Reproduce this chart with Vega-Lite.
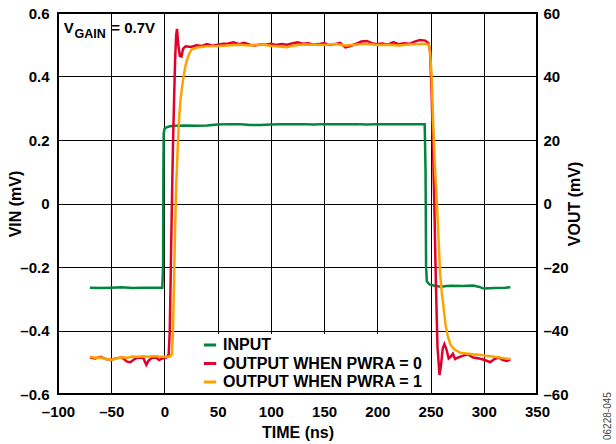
{
  "$schema": "https://vega.github.io/schema/vega-lite/v6.json",
  "width": 479,
  "height": 381,
  "autosize": {"type": "none"},
  "padding": {"left": 58, "top": 13, "right": 79, "bottom": 50},
  "background": "white",
  "config": {
    "font": "Liberation Sans",
    "view": {"stroke": "black", "strokeWidth": 2},
    "axis": {
      "labelFont": "Liberation Sans", "labelFontWeight": "bold", "labelFontSize": 15, "labelColor": "black",
      "titleFont": "Liberation Sans", "titleFontWeight": "bold", "titleFontSize": 16, "titleColor": "black",
      "ticks": false, "domain": false, "gridColor": "black", "gridOpacity": 1, "gridWidth": 1,
      "labelFlush": false, "labelOverlap": false
    },
    "legend": {
      "labelFont": "Liberation Sans", "labelFontWeight": "bold", "labelFontSize": 16, "labelColor": "black", "labelLimit": 400
    }
  },
  "title": {"text": "06228-045", "orient": "right", "anchor": "end", "frame": "bounds", "angle": -90, "align": "left", "baseline": "middle", "fontSize": 10, "fontWeight": "normal", "color": "#444444", "offset": 16},
  "datasets": {
    "input": [
      {"t": -70, "v": -0.265}, {"t": -60, "v": -0.266}, {"t": -50, "v": -0.265}, {"t": -40, "v": -0.264},
      {"t": -30, "v": -0.266}, {"t": -20, "v": -0.265}, {"t": -10, "v": -0.265}, {"t": -2, "v": -0.265},
      {"t": -1.3, "v": -0.2}, {"t": -1, "v": 0.1}, {"t": -0.7, "v": 0.22}, {"t": 0, "v": 0.235},
      {"t": 2, "v": 0.24}, {"t": 5, "v": 0.243}, {"t": 10, "v": 0.245}, {"t": 20, "v": 0.246},
      {"t": 30, "v": 0.245}, {"t": 40, "v": 0.246}, {"t": 50, "v": 0.249}, {"t": 60, "v": 0.25},
      {"t": 70, "v": 0.25}, {"t": 75, "v": 0.249}, {"t": 80, "v": 0.247}, {"t": 90, "v": 0.247},
      {"t": 100, "v": 0.249}, {"t": 110, "v": 0.25}, {"t": 120, "v": 0.25}, {"t": 130, "v": 0.25},
      {"t": 140, "v": 0.249}, {"t": 150, "v": 0.25}, {"t": 160, "v": 0.25}, {"t": 170, "v": 0.25},
      {"t": 180, "v": 0.25}, {"t": 190, "v": 0.249}, {"t": 200, "v": 0.25}, {"t": 210, "v": 0.25},
      {"t": 220, "v": 0.25}, {"t": 230, "v": 0.25}, {"t": 240, "v": 0.25}, {"t": 244.5, "v": 0.25},
      {"t": 245.3, "v": 0.1}, {"t": 245.8, "v": -0.2}, {"t": 246.5, "v": -0.245}, {"t": 249, "v": -0.255},
      {"t": 255, "v": -0.26}, {"t": 260, "v": -0.262}, {"t": 265, "v": -0.26}, {"t": 270, "v": -0.259},
      {"t": 280, "v": -0.26}, {"t": 290, "v": -0.258}, {"t": 295, "v": -0.262}, {"t": 300, "v": -0.268},
      {"t": 310, "v": -0.266}, {"t": 320, "v": -0.265}, {"t": 325, "v": -0.264}
    ],
    "red": [
      {"t": -70, "v": -48.5}, {"t": -65, "v": -48.8}, {"t": -60, "v": -48.3}, {"t": -55, "v": -49},
      {"t": -50, "v": -49.2}, {"t": -45, "v": -48.7}, {"t": -40, "v": -48.5}, {"t": -35, "v": -49.8},
      {"t": -32, "v": -50}, {"t": -28, "v": -49}, {"t": -25, "v": -48.5}, {"t": -20, "v": -48.6},
      {"t": -17, "v": -50.8}, {"t": -15, "v": -49.5}, {"t": -12, "v": -48.7}, {"t": -8, "v": -48.5},
      {"t": -5, "v": -49.3}, {"t": -2, "v": -48.8}, {"t": 2, "v": -48.5}, {"t": 4, "v": -47.5},
      {"t": 5, "v": -40}, {"t": 6, "v": -20}, {"t": 7, "v": 0}, {"t": 8, "v": 18}, {"t": 9, "v": 32},
      {"t": 10, "v": 45}, {"t": 11, "v": 53}, {"t": 11.8, "v": 55}, {"t": 13, "v": 50}, {"t": 14.5, "v": 46.5},
      {"t": 16, "v": 46.3}, {"t": 17.5, "v": 48.8}, {"t": 20, "v": 49.5}, {"t": 25, "v": 49.3},
      {"t": 30, "v": 49.8}, {"t": 35, "v": 49.6}, {"t": 40, "v": 50.2}, {"t": 45, "v": 49.7},
      {"t": 50, "v": 50}, {"t": 55, "v": 50.3}, {"t": 60, "v": 50.4}, {"t": 65, "v": 50.8},
      {"t": 70, "v": 50.2}, {"t": 75, "v": 50.6}, {"t": 80, "v": 50}, {"t": 85, "v": 49.8},
      {"t": 90, "v": 50.1}, {"t": 95, "v": 50}, {"t": 100, "v": 50.3}, {"t": 105, "v": 49.9},
      {"t": 110, "v": 50.2}, {"t": 115, "v": 50}, {"t": 120, "v": 50.4}, {"t": 125, "v": 50.8},
      {"t": 130, "v": 50.3}, {"t": 135, "v": 50.5}, {"t": 140, "v": 50}, {"t": 145, "v": 50.2},
      {"t": 150, "v": 50.5}, {"t": 155, "v": 49.9}, {"t": 160, "v": 50.2}, {"t": 165, "v": 50.6},
      {"t": 170, "v": 49.2}, {"t": 175, "v": 49.6}, {"t": 180, "v": 50.3}, {"t": 185, "v": 51},
      {"t": 190, "v": 51.2}, {"t": 195, "v": 50.5}, {"t": 200, "v": 50.2}, {"t": 205, "v": 50.4},
      {"t": 210, "v": 50}, {"t": 215, "v": 50.8}, {"t": 220, "v": 50.2}, {"t": 225, "v": 50.5},
      {"t": 230, "v": 50.3}, {"t": 235, "v": 51}, {"t": 240, "v": 51.5}, {"t": 245, "v": 51.3},
      {"t": 248, "v": 50.5}, {"t": 249.5, "v": 48}, {"t": 251, "v": 35}, {"t": 252.5, "v": 15},
      {"t": 253.5, "v": 0}, {"t": 255, "v": -25}, {"t": 256.5, "v": -45}, {"t": 258.4, "v": -54},
      {"t": 259.8, "v": -51}, {"t": 261.5, "v": -45.5}, {"t": 263, "v": -44.3}, {"t": 265, "v": -46},
      {"t": 267, "v": -48.8}, {"t": 269, "v": -48.2}, {"t": 271, "v": -47.3}, {"t": 273, "v": -49},
      {"t": 276, "v": -48.5}, {"t": 280, "v": -48}, {"t": 285, "v": -47.5}, {"t": 290, "v": -48.5},
      {"t": 296, "v": -48.8}, {"t": 301, "v": -49.3}, {"t": 306, "v": -50}, {"t": 310, "v": -49},
      {"t": 314, "v": -48.5}, {"t": 318, "v": -49.3}, {"t": 322, "v": -49.6}, {"t": 325, "v": -49}
    ],
    "orange": [
      {"t": -70, "v": -48.3}, {"t": -65, "v": -48.6}, {"t": -60, "v": -48.5}, {"t": -55, "v": -49},
      {"t": -50, "v": -49.2}, {"t": -45, "v": -48.8}, {"t": -40, "v": -48.4}, {"t": -35, "v": -48.6},
      {"t": -30, "v": -48.2}, {"t": -25, "v": -48.3}, {"t": -20, "v": -48.1}, {"t": -15, "v": -48.3},
      {"t": -10, "v": -48}, {"t": -5, "v": -48.2}, {"t": 0, "v": -48.3}, {"t": 5, "v": -48.3},
      {"t": 7, "v": -47.5}, {"t": 8, "v": -40}, {"t": 9, "v": -25}, {"t": 10, "v": -8}, {"t": 11, "v": 5},
      {"t": 12.5, "v": 18}, {"t": 14, "v": 28}, {"t": 15.5, "v": 34}, {"t": 17.5, "v": 39},
      {"t": 19.5, "v": 43}, {"t": 21, "v": 45}, {"t": 23, "v": 47}, {"t": 25.5, "v": 48.5},
      {"t": 30, "v": 49.1}, {"t": 35, "v": 49.3}, {"t": 40, "v": 49.5}, {"t": 50, "v": 49.6},
      {"t": 60, "v": 49.8}, {"t": 70, "v": 50}, {"t": 80, "v": 49.8}, {"t": 90, "v": 50.1},
      {"t": 100, "v": 49.7}, {"t": 110, "v": 49.4}, {"t": 115, "v": 49.2}, {"t": 120, "v": 49.7},
      {"t": 130, "v": 50.1}, {"t": 140, "v": 50}, {"t": 150, "v": 49.9}, {"t": 160, "v": 50.2},
      {"t": 170, "v": 49.8}, {"t": 180, "v": 50}, {"t": 190, "v": 50.3}, {"t": 200, "v": 49.9},
      {"t": 210, "v": 50}, {"t": 220, "v": 49.8}, {"t": 230, "v": 50.1}, {"t": 240, "v": 50.2},
      {"t": 246, "v": 50.3}, {"t": 248.5, "v": 50}, {"t": 249.5, "v": 48}, {"t": 251, "v": 40},
      {"t": 252.5, "v": 25}, {"t": 254, "v": 12}, {"t": 256, "v": 0}, {"t": 258, "v": -15},
      {"t": 259, "v": -22}, {"t": 260.5, "v": -28}, {"t": 262, "v": -32}, {"t": 264, "v": -38},
      {"t": 266, "v": -41.5}, {"t": 268.5, "v": -44.3}, {"t": 271, "v": -45.5}, {"t": 274, "v": -46.3},
      {"t": 278, "v": -47}, {"t": 285, "v": -47.3}, {"t": 290, "v": -47.5}, {"t": 295, "v": -47.6},
      {"t": 303, "v": -48}, {"t": 310, "v": -48.3}, {"t": 318, "v": -48.7}, {"t": 325, "v": -49}
    ]
  },
  "layer": [
    {
      "encoding": {
        "y": {
          "type": "quantitative",
          "scale": {"domain": [-0.6, 0.6], "nice": false, "zero": false},
          "axis": {
            "orient": "left", "title": "VIN (mV)", "values": [-0.6, -0.4, -0.2, 0, 0.2, 0.4, 0.6],
            "labelExpr": "datum.value == 0 ? '0' : (datum.value < 0 ? '–' : '') + format(abs(datum.value), '.1f')",
            "labelPadding": 9, "titlePadding": -4
          }
        }
      },
      "layer": [
        {
          "data": {"name": "input"},
          "transform": [{"calculate": "'INPUT'", "as": "series"}],
          "mark": {"type": "line", "strokeWidth": 2.5, "interpolate": "linear"},
          "encoding": {
            "x": {
              "field": "t", "type": "quantitative",
              "scale": {"domain": [-100, 350], "nice": false, "zero": false},
              "axis": {
                "title": "TIME (ns)", "values": [-100, -50, 0, 50, 100, 150, 200, 250, 300, 350],
                "labelExpr": "(datum.value < 0 ? '–' : '') + abs(datum.value)",
                "labelPadding": 10, "titlePadding": 5
              }
            },
            "y": {"field": "v"},
            "color": {
              "field": "series", "type": "nominal",
              "scale": {"domain": ["INPUT", "OUTPUT WHEN PWRA = 0", "OUTPUT WHEN PWRA = 1"], "range": ["#00853F", "#E1002A", "#FFA200"]},
              "legend": {
                "title": null, "orient": "none", "legendX": 141, "legendY": 321,
                "fillColor": "white", "padding": 3, "symbolType": "stroke", "symbolSize": 150,
                "symbolStrokeWidth": 3, "labelOffset": 5, "rowPadding": 2.5, "labelLimit": 400
              }
            }
          }
        },
        {
          "data": {"values": [{}]},
          "mark": {"type": "text", "text": "V", "fontSize": 15, "fontWeight": "bold", "align": "left", "baseline": "middle", "color": "black"},
          "encoding": {"x": {"datum": -94.5, "type": "quantitative"}, "y": {"datum": 0.552, "type": "quantitative"}}
        },
        {
          "data": {"values": [{}]},
          "mark": {"type": "text", "text": "GAIN", "fontSize": 12.5, "fontWeight": "bold", "align": "left", "baseline": "middle", "color": "black"},
          "encoding": {"x": {"datum": -84.5, "type": "quantitative"}, "y": {"datum": 0.533, "type": "quantitative"}}
        },
        {
          "data": {"values": [{}]},
          "mark": {"type": "text", "text": "= 0.7V", "fontSize": 15, "fontWeight": "bold", "align": "left", "baseline": "middle", "color": "black"},
          "encoding": {"x": {"datum": -50, "type": "quantitative"}, "y": {"datum": 0.552, "type": "quantitative"}}
        }
      ]
    },
    {
      "layer": [
        {
          "data": {"name": "red"},
          "transform": [{"calculate": "'OUTPUT WHEN PWRA = 0'", "as": "series"}],
          "mark": {"type": "line", "strokeWidth": 2.5},
          "encoding": {
            "x": {"field": "t", "type": "quantitative"},
            "y": {"field": "v", "type": "quantitative"},
            "color": {"field": "series", "type": "nominal"}
          }
        },
        {
          "data": {"name": "orange"},
          "transform": [{"calculate": "'OUTPUT WHEN PWRA = 1'", "as": "series"}],
          "mark": {"type": "line", "strokeWidth": 2.5},
          "encoding": {
            "x": {"field": "t", "type": "quantitative"},
            "y": {"field": "v", "type": "quantitative"},
            "color": {"field": "series", "type": "nominal"}
          }
        }
      ],
      "encoding": {
        "y": {
          "type": "quantitative",
          "scale": {"domain": [-60, 60], "nice": false, "zero": false},
          "axis": {
            "orient": "right", "title": "VOUT (mV)", "titleAngle": 270, "grid": false, "values": [-60, -40, -20, 0, 20, 40, 60],
            "labelExpr": "(datum.value < 0 ? '–' : '') + abs(datum.value)",
            "labelPadding": 6, "titlePadding": 14
          }
        }
      }
    }
  ],
  "resolve": {"scale": {"y": "independent"}}
}
